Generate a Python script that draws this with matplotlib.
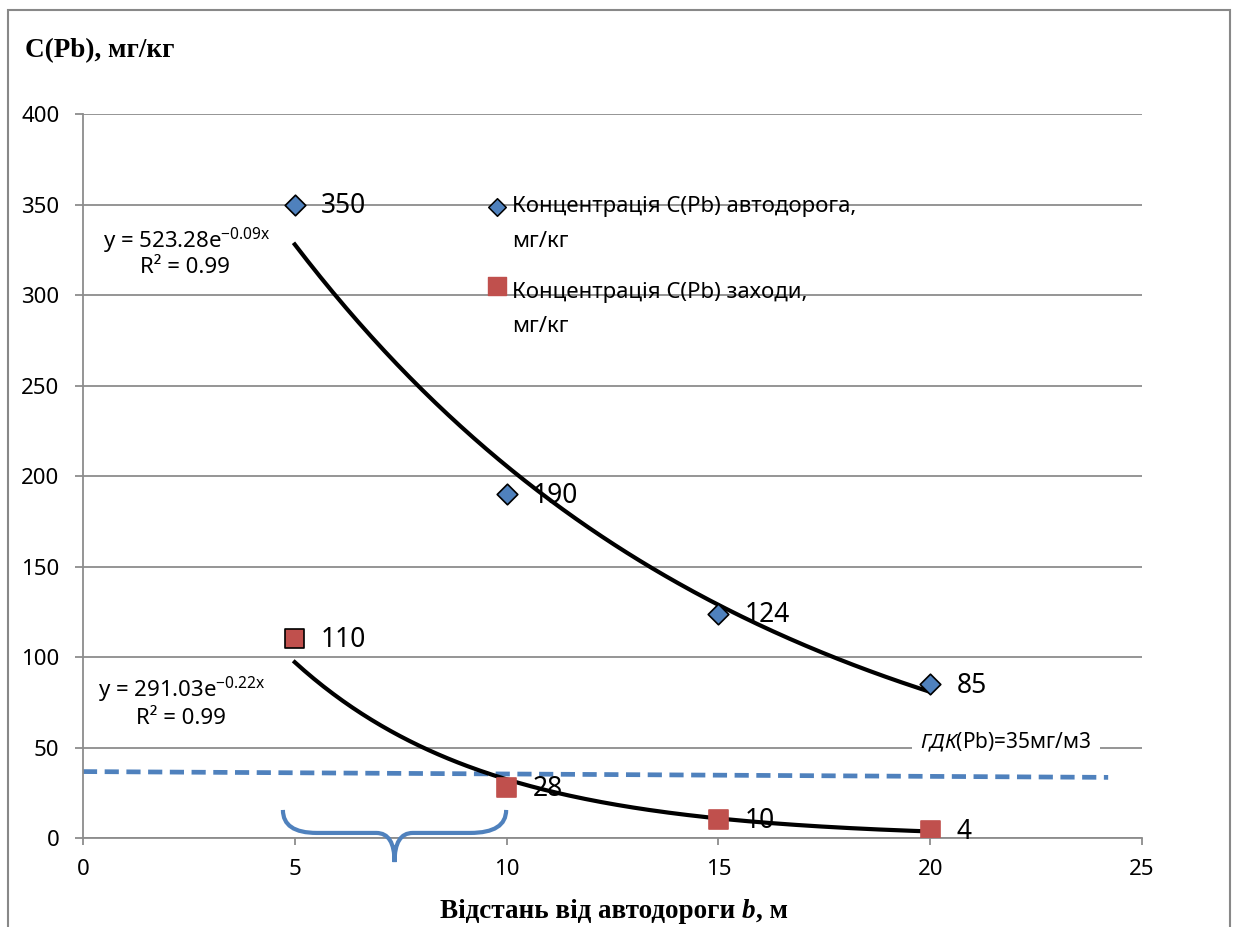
import numpy as np
import matplotlib.pyplot as plt
from matplotlib.path import Path
from matplotlib.patches import PathPatch, Rectangle

plt.rcParams['font.family'] = ['Noto Sans', 'DejaVu Sans']
plt.rcParams['mathtext.fontset'] = 'custom'
plt.rcParams['mathtext.rm'] = 'Noto Sans'
plt.rcParams['mathtext.it'] = 'Noto Sans:italic'
plt.rcParams['mathtext.default'] = 'rm'

# Data
distance = np.array([5, 10, 15, 20])
pb_road = np.array([350, 190, 124, 85])
pb_measures = np.array([110, 28, 10, 4])
label_road = ['Концентрація C(Pb) автодорога,', 'мг/кг']
label_measures = ['Концентрація C(Pb) заходи,', 'мг/кг']

# hand drawn limit line (ГДК = 35)
gdk_x = [0, 24.2]
gdk_y = [36.7, 33.5]
brace_span = (4.72, 9.99)

BLUE = '#4F81BD'
RED = '#C0504D'
GRID = '#8C8C8C'

# exponential trendlines, fitted on log values like Excel does
def exp_fit(x, y):
    k, lna = np.polyfit(x, np.log(y), 1)
    pred = lna + k * x
    ly = np.log(y)
    r2 = 1 - np.sum((ly - pred) ** 2) / np.sum((ly - ly.mean()) ** 2)
    return np.exp(lna), k, r2

fig = plt.figure(figsize=(12.38, 9.27), dpi=100)
ax = fig.add_axes([0.067, 0.096, 0.8555, 0.781])

ax.set_xlim(0, 25)
ax.set_ylim(0, 400)
ax.set_xticks(np.arange(0, 26, 5))
ax.set_yticks(np.arange(0, 401, 50))
ax.yaxis.grid(True, color=GRID, lw=1.3)
ax.set_axisbelow(True)
for s in ['top', 'right']:
    ax.spines[s].set_visible(False)
for s in ['left', 'bottom']:
    ax.spines[s].set_color(GRID)
    ax.spines[s].set_linewidth(1.3)
ax.tick_params(axis='y', length=6, width=1.3, color=GRID, labelsize=16, pad=11)
ax.tick_params(axis='x', length=5, width=1.3, color=GRID, labelsize=16, pad=10)

xs = np.linspace(5, 20, 200)
for y, eq_pos, r2_pos in [(pb_road, (0.47, 330), (1.35, 315)),
                          (pb_measures, (0.35, 82), (1.25, 66))]:
    a, k, r2 = exp_fit(distance, y)
    ax.plot(xs, a * np.exp(k * xs), color='black', lw=3, zorder=3)
    ax.text(*eq_pos, f'y = {a:.2f}e$^{{{k:.2f}x}}$', fontsize=16, va='center')
    ax.text(*r2_pos, f'R² = {r2:.2f}', fontsize=16, va='center')

ax.plot(gdk_x, gdk_y, color=BLUE, lw=3.4, ls=(0, (3.0, 1.6)), zorder=2)

ax.scatter(distance, pb_road, marker='D', s=110, color=BLUE, edgecolor='black',
           linewidth=1.2, zorder=4)
ax.scatter(distance, pb_measures, marker='s', s=190, color=RED,
           edgecolor=['black', RED, RED, RED], linewidth=1.2, zorder=4)

for xv, yv in zip(distance, pb_road):
    ax.annotate(str(yv), (xv, yv), xytext=(19, -1), textcoords='offset points',
                fontsize=19, va='center', ha='left', zorder=5)
for xv, yv in zip(distance, pb_measures):
    ax.annotate(str(yv), (xv, yv), xytext=(19, -1), textcoords='offset points',
                fontsize=19, va='center', ha='left', zorder=5)

# limit label
ax.text(19.76, 53, '$\\mathit{ГДК}$(Pb)=35мг/м3', fontsize=15, va='center', ha='left',
        bbox=dict(facecolor='white', edgecolor='none', pad=6))

# brace under the exceedance interval
x0, x1 = brace_span
xm = (x0 + x1) / 2
top, flat, tip = 15.5, 2.8, -13.3
verts = [(x0, top), (x0, flat), (x0 + 0.8, flat), (xm - 0.43, flat), (xm, flat), (xm, tip),
         (xm, flat), (xm + 0.43, flat), (x1 - 0.85, flat), (x1, flat), (x1, top)]
codes = [Path.MOVETO, Path.CURVE3, Path.CURVE3, Path.LINETO, Path.CURVE3, Path.CURVE3,
         Path.CURVE3, Path.CURVE3, Path.LINETO, Path.CURVE3, Path.CURVE3]
ax.add_patch(PathPatch(Path(verts, codes), facecolor='none', edgecolor=BLUE, lw=3,
                       clip_on=False, zorder=3))

# legend, drawn by hand so the key sits on the first line of each label
tr = ax.transAxes
ax.scatter([0.391], [0.8716], marker='D', s=80, color=BLUE, edgecolor='black',
           linewidth=1.1, transform=tr, clip_on=False, zorder=5)
ax.scatter([0.391], [0.762], marker='s', s=150, color=RED, transform=tr,
           clip_on=False, zorder=5)
for lines, y_first in [(label_road, 0.8716), (label_measures, 0.753)]:
    for i, line in enumerate(lines):
        ax.text(0.405, y_first - i * 0.047, line, transform=tr, fontsize=16,
                va='center', ha='left')

# axis titles
serif = dict(family='Liberation Serif', weight='bold', fontsize=19.5)
fig.text(0.02, 0.938, 'C(Pb), мг/кг', **serif)
xl = fig.text(440 / 1238, 0.01, 'Відстань від автодороги ', **serif)
xb = ax.annotate('b', xy=(1, 0), xycoords=xl, va='bottom', ha='left', style='italic',
                 annotation_clip=False, **serif)
ax.annotate(', м', xy=(1, 0), xycoords=xb, va='bottom', ha='left',
            annotation_clip=False, **serif)

fig.patches.append(Rectangle((8 / 1238, -0.05), 1222 / 1238, 1.05 - 10 / 927,
                             transform=fig.transFigure, fill=False, edgecolor='#888888', lw=1.5))

fig.savefig('out.png', dpi=100)
